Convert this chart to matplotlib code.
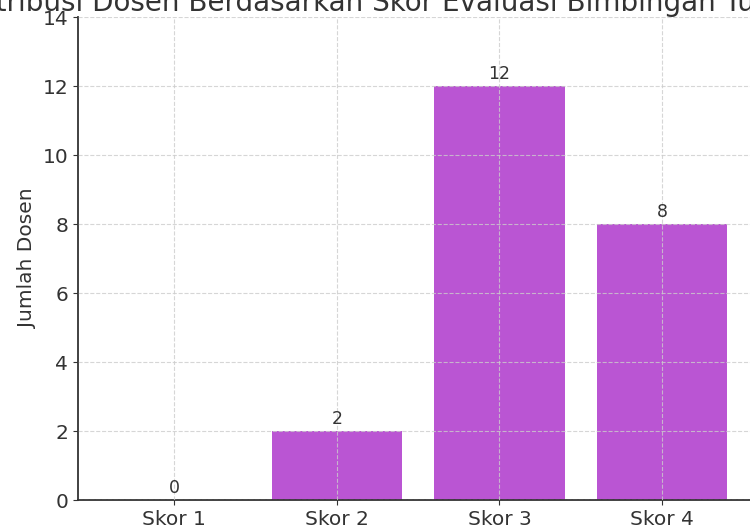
import matplotlib
matplotlib.use("Agg")
import matplotlib.pyplot as plt

categories = ["Skor 1", "Skor 2", "Skor 3", "Skor 4"]
counts = [0, 2, 12, 8]

text_color = "#333333"

fig = plt.figure(figsize=(7.5, 5.25), dpi=100)
ax = fig.add_axes([0.104, 0.0476, 0.907, 0.92])

bars = ax.bar(categories, counts, color="mediumorchid", width=0.8)
ax.set_axisbelow(False)
ax.grid(True, linestyle="--", color="#cccccc", linewidth=0.8, alpha=0.8)

for b, v in zip(bars, counts):
    ax.text(b.get_x() + b.get_width() / 2, v + 0.08, str(v),
            ha="center", va="bottom", fontsize=12.5, color=text_color)

ax.set_ylim(0, 14)
ax.set_ylabel("Jumlah Dosen", fontsize=14.5, color=text_color)
ax.set_title("Distribusi Dosen Berdasarkan Skor Evaluasi Bimbingan Tugas Akhir",
             fontsize=20, color=text_color, pad=1.5)
ax.tick_params(labelsize=14.5, colors=text_color)

for s in ["top", "right"]:
    ax.spines[s].set_visible(False)
for s in ["left", "bottom"]:
    ax.spines[s].set_color(text_color)
    ax.spines[s].set_linewidth(1.3)

fig.savefig("out.png", dpi=100)
